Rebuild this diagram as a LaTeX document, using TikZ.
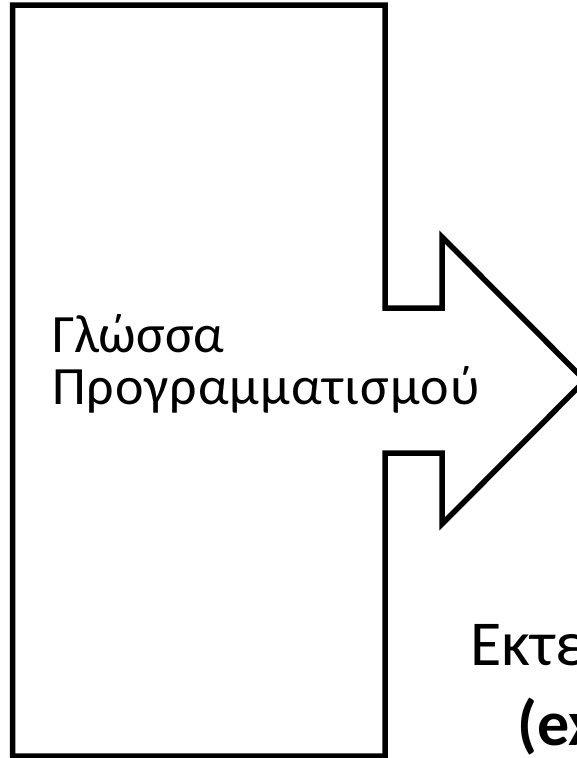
\documentclass[tikz,border=0pt]{standalone}
\usepackage{fontspec}
\setmainfont{Carlito}
\begin{document}
\begin{tikzpicture}[x=1pt,y=-1pt,
  outline/.style={draw=black,line width=5.5pt,line join=miter,fill=white},
  label/.style={anchor=base west,inner sep=0pt,font=\fontsize{54}{54}\selectfont},
  bigtext/.style={anchor=base west,inner sep=0pt,font=\fontsize{64}{64}\selectfont}]
\useasboundingbox (0,0) rectangle (577,758);
\clip (0,0) rectangle (577,758);
% block with its right-pointing arrow
\draw[outline] (12.5,5) -- (385,5) -- (385,308) -- (442,308) -- (442,237)
  -- (585,380.5) -- (442,524) -- (442,453) -- (385,453) -- (385,756)
  -- (12.5,756) -- cycle;
\node[label] (l1) at (52,352) {Γλώσσα};
\node[label] (l2) at (52,404) {\addfontfeature{LetterSpace=2}Προγραμματισμού};
\node[bigtext] (o1) at (470,665) {Εκτελέσιμο};
\node[bigtext] (o2) at (517,745) {\bfseries (executable)};
\end{tikzpicture}
\end{document}
